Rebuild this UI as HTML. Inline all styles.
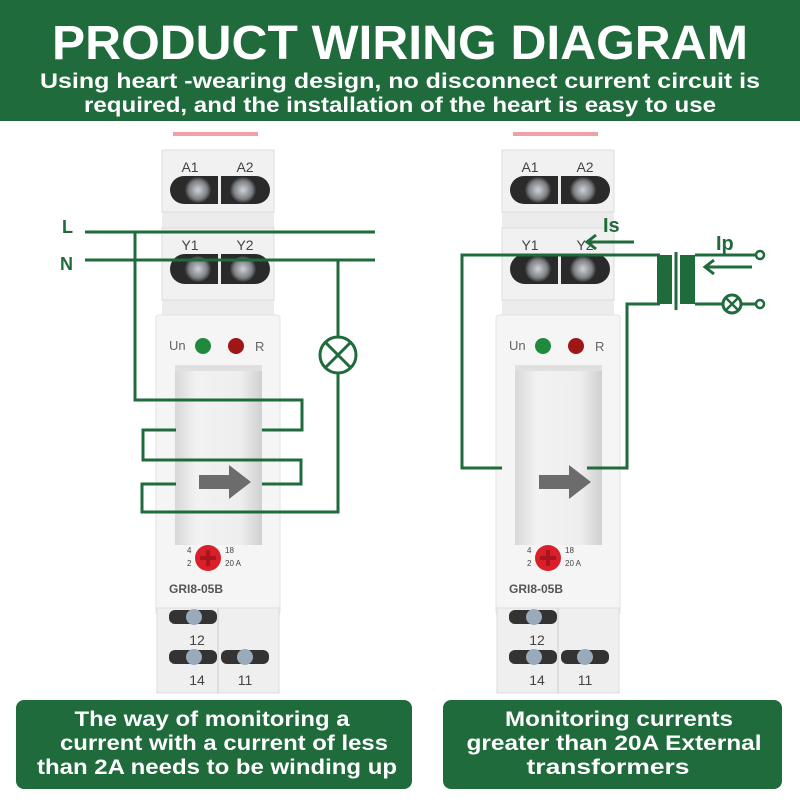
<!DOCTYPE html>
<html><head><meta charset="utf-8"><style>
html,body{margin:0;padding:0;background:#fff}
svg{display:block}
text{font-family:"Liberation Sans",sans-serif}
</style></head><body>
<svg width="800" height="800" viewBox="0 0 800 800" xmlns="http://www.w3.org/2000/svg">
<defs>
<linearGradient id="win" x1="0" y1="0" x2="1" y2="0">
<stop offset="0" stop-color="#d8d8d8"/><stop offset="0.25" stop-color="#f2f2f2"/><stop offset="0.75" stop-color="#eeeeee"/><stop offset="1" stop-color="#d0d0d0"/>
</linearGradient>
<radialGradient id="scr"><stop offset="0" stop-color="#cfd3d6"/><stop offset="0.7" stop-color="#7d8186"/><stop offset="1" stop-color="#333"/></radialGradient>
<g id="dev">
  <rect x="18" y="12" width="85" height="4" fill="#f0a0a8"/>
  <rect x="7" y="30" width="112" height="185" fill="#ececec"/>
  <rect x="7" y="30" width="112" height="62" fill="#f1f1f1" stroke="#ddd"/>
  <text x="35" y="52" font-size="14" fill="#444" text-anchor="middle">A1</text>
  <text x="90" y="52" font-size="14" fill="#444" text-anchor="middle">A2</text>
  <rect x="15" y="56" width="100" height="28" rx="14" fill="#2a2a2a"/>
  <circle cx="43" cy="70" r="13" fill="url(#scr)"/><circle cx="88" cy="70" r="13" fill="url(#scr)"/>
  <rect x="63" y="56" width="3" height="28" fill="#eee"/>
  <rect x="7" y="108" width="112" height="72" fill="#f1f1f1" stroke="#ddd"/>
  <text x="35" y="130" font-size="14" fill="#444" text-anchor="middle">Y1</text>
  <text x="90" y="130" font-size="14" fill="#444" text-anchor="middle">Y2</text>
  <rect x="15" y="134" width="100" height="30" rx="15" fill="#2a2a2a"/>
  <circle cx="43" cy="149" r="13" fill="url(#scr)"/><circle cx="88" cy="149" r="13" fill="url(#scr)"/>
  <rect x="63" y="134" width="3" height="30" fill="#eee"/>
  <rect x="1" y="195" width="124" height="300" rx="3" fill="#f5f5f5" stroke="#e2e2e2"/>
  <text x="14" y="230" font-size="13" fill="#666">Un</text>
  <circle cx="48" cy="226" r="8" fill="#1f8a3c"/>
  <circle cx="81" cy="226" r="8" fill="#a01515"/>
  <text x="100" y="231" font-size="13" fill="#666">R</text>
  <rect x="20" y="245" width="87" height="180" fill="url(#win)"/>
  <rect x="20" y="245" width="87" height="6" fill="#e0e0e0"/>
  <path d="M44 355 h30 v-10 l22 17 l-22 17 v-10 h-30z" fill="#6c6c6c"/>
  <circle cx="53" cy="438" r="13" fill="#d9202a"/>
  <path d="M45 436 h16 v4 h-16z M51 430 h4 v16 h-4z" fill="#a9151d"/>
  <text x="32" y="433" font-size="8" fill="#444">4</text><text x="32" y="446" font-size="8" fill="#444">2</text>
  <text x="70" y="433" font-size="8" fill="#444">18</text><text x="70" y="446" font-size="8" fill="#444">20 A</text>
  <text x="14" y="473" font-size="12" font-weight="bold" fill="#555">GRI8-05B</text>
  <rect x="2" y="488" width="122" height="85" fill="#efefef" stroke="#ddd"/>
  <rect x="14" y="490" width="48" height="14" rx="6" fill="#333"/><circle cx="39" cy="497" r="8" fill="#9ab"/>
  <text x="42" y="525" font-size="14" fill="#444" text-anchor="middle">12</text>
  <rect x="14" y="530" width="48" height="14" rx="6" fill="#333"/><circle cx="39" cy="537" r="8" fill="#9ab"/>
  <rect x="66" y="530" width="48" height="14" rx="6" fill="#333"/><circle cx="90" cy="537" r="8" fill="#9ab"/>
  <line x1="63" y1="488" x2="63" y2="573" stroke="#ccc"/>
  <text x="42" y="565" font-size="14" fill="#444" text-anchor="middle">14</text>
  <text x="90" y="565" font-size="14" fill="#444" text-anchor="middle">11</text>
</g>
</defs>
<rect x="0" y="0" width="800" height="121" fill="#1f6b3c"/>
<text x="400" y="59" font-size="48" font-weight="bold" fill="#fff" text-anchor="middle" textLength="696" lengthAdjust="spacingAndGlyphs">PRODUCT WIRING DIAGRAM</text>
<text x="400" y="88" font-size="21" font-weight="bold" fill="#fff" text-anchor="middle" textLength="720" lengthAdjust="spacingAndGlyphs">Using heart -wearing design, no disconnect current circuit is</text>
<text x="400" y="112" font-size="21" font-weight="bold" fill="#fff" text-anchor="middle" textLength="632" lengthAdjust="spacingAndGlyphs">required, and the installation of the heart is easy to use</text>

<use href="#dev" x="155" y="120"/>
<use href="#dev" x="495" y="120"/>

<g fill="none" stroke="#1f6b3c" stroke-width="3">
  <path d="M85 232 H375 M85 260 H375"/>
  <path d="M135 232 V400 H302 V430 H262"/>
  <path d="M176 430 H143 V460 H301 V484 H262"/>
  <path d="M176 484 H142 V512 H338 V373"/>
  <path d="M338 337 V260"/>
  <circle cx="338" cy="355" r="18"/>
  <path d="M325 342 L351 368 M351 342 L325 368"/>
  <path d="M502 468 H462 V255 H660"/>
  <path d="M587 468 H627 V304 H660"/>
  <path d="M676 252 V310"/>
  <path d="M695 255 H757 M695 304 H723 M741 304 H757"/>
  <circle cx="760" cy="255" r="4" stroke-width="2.5"/>
  <circle cx="760" cy="304" r="4" stroke-width="2.5"/>
  <circle cx="732" cy="304" r="9"/>
  <path d="M726 298 L738 310 M738 298 L726 310" stroke-width="2.5"/>
  <path d="M752 267 H705 M714 260 L705 267 L714 274"/>
  <path d="M634 242 H587 M596 235 L587 242 L596 249"/>
</g>
<rect x="657" y="255" width="15" height="49" fill="#1f6b3c"/>
<rect x="680" y="255" width="15" height="49" fill="#1f6b3c"/>
<text x="62" y="233" font-size="18" font-weight="bold" fill="#1f6b3c">L</text>
<text x="60" y="270" font-size="18" font-weight="bold" fill="#1f6b3c">N</text>
<text x="603" y="232" font-size="20" font-weight="bold" fill="#1f6b3c">Is</text>
<text x="716" y="250" font-size="20" font-weight="bold" fill="#1f6b3c">Ip</text>

<rect x="16" y="700" width="396" height="89" rx="8" fill="#1f6b3c"/>
<rect x="443" y="700" width="339" height="89" rx="8" fill="#1f6b3c"/>
<g font-size="21" font-weight="bold" fill="#fff" text-anchor="middle">
<text x="212" y="726" textLength="275" lengthAdjust="spacingAndGlyphs">The way of monitoring a</text>
<text x="224" y="750" textLength="328" lengthAdjust="spacingAndGlyphs">current with a current of less</text>
<text x="217" y="774" textLength="360" lengthAdjust="spacingAndGlyphs">than 2A needs to be winding up</text>
<text x="619" y="726" textLength="228" lengthAdjust="spacingAndGlyphs">Monitoring currents</text>
<text x="614" y="750" textLength="295" lengthAdjust="spacingAndGlyphs">greater than 20A External</text>
<text x="608" y="774" textLength="163" lengthAdjust="spacingAndGlyphs">transformers</text>
</g>
</svg>
</body></html>
